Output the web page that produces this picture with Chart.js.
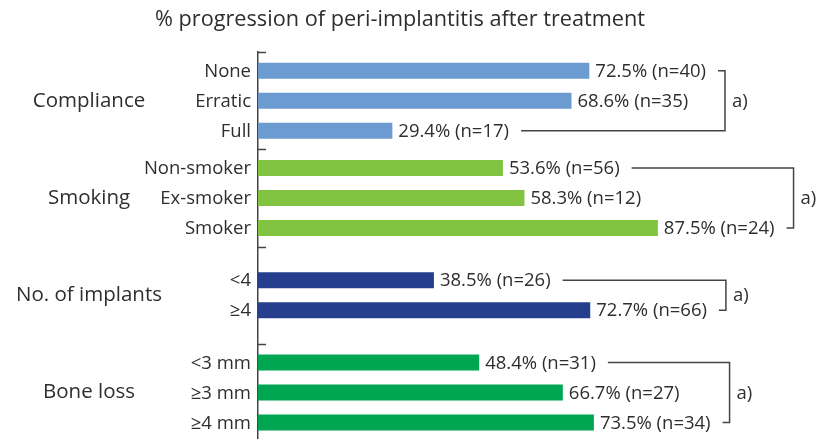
<!DOCTYPE html>
<html>
<head>
<meta charset="utf-8">
<script src="https://cdn.jsdelivr.net/npm/chart.js@4/dist/chart.umd.min.js"></script>
<style>
  html, body { margin: 0; padding: 0; background: #fff; overflow: hidden; }
  #wrap { position: relative; width: 821px; height: 450px; }
</style>
</head>
<body>
<div id="wrap"><canvas id="chart"></canvas></div>
<script>
const TITLE       = '% progression of peri-implantitis after treatment';
const groupLabels = ['Compliance', 'Smoking', 'No. of implants', 'Bone loss'];
const groupColors = ['#6b9bd1', '#82c341', '#253f8e', '#00a651'];
const rowLabels   = ['None', 'Erratic', 'Full', 'Non-smoker', 'Ex-smoker', 'Smoker',
                     '<4', '≥4', '<3 mm', '≥3 mm', '≥4 mm'];
const rowGroup    = [0, 0, 0, 1, 1, 1, 2, 2, 3, 3, 3];
const percents    = [72.5, 68.6, 29.4, 53.6, 58.3, 87.5, 38.5, 72.7, 48.4, 66.7, 73.5];
const counts      = [40, 35, 17, 56, 12, 24, 26, 66, 31, 27, 34];
const sigMark     = 'a)';

const FONT = '"Open Sans", "DejaVu Sans", sans-serif';
const INK  = '#2e2e2e';
const LABEL_SIZE = 18.5;
const SLOTS = 5;

// spread each group's rows over 5 slots so 3-row groups use 0,2,4 and 2-row groups 1,3
const datasets = [];
for (let s = 0; s < SLOTS; s++) {
    datasets.push({ data: groupLabels.map(() => null), rows: groupLabels.map(() => null),
                    backgroundColor: groupColors });
}
groupLabels.forEach((g, gi) => {
    const rows = rowGroup.map((v, i) => v === gi ? i : -1).filter(i => i >= 0);
    const first = (SLOTS - (2 * rows.length - 1)) / 2;
    rows.forEach((r, j) => {
        datasets[first + 2 * j].data[gi] = percents[r];
        datasets[first + 2 * j].rows[gi] = r;
    });
});

const annotate = {
    id: 'annotate',
    afterDatasetsDraw(chart) {
        const ctx = chart.ctx;
        const area = chart.chartArea;
        const ys = chart.scales.y;
        const found = [];   // per row: {y, end}

        ctx.save();
        ctx.fillStyle = INK;
        ctx.textBaseline = 'middle';
        ctx.font = LABEL_SIZE + 'px ' + FONT;
        chart.data.datasets.forEach((ds, di) => {
            const meta = chart.getDatasetMeta(di);
            meta.data.forEach((el, gi) => {
                if (ds.data[gi] == null) return;
                const r = ds.rows[gi];
                ctx.textAlign = 'left';
                const txt = percents[r].toFixed(1) + '% (n=' + counts[r] + ')';
                const x0 = el.x + 6;
                ctx.fillText(txt, x0, el.y + 1);
                found[r] = { y: el.y, end: x0 + ctx.measureText(txt).width };
                ctx.textAlign = 'right';
                ctx.fillText(rowLabels[r], area.left - 7, el.y + 1);
            });
        });

        // short tick marks at group boundaries
        ctx.strokeStyle = '#444';
        ctx.lineWidth = 1.5;
        for (let i = 0; i <= groupLabels.length; i++) {
            const y = Math.round(ys.getPixelForValue(i - 0.5)) + 0.5;
            ctx.beginPath();
            ctx.moveTo(area.left, y);
            ctx.lineTo(area.left + 8, y);
            ctx.stroke();
        }

        // significance brackets
        ctx.textAlign = 'left';
        groupLabels.forEach((g, gi) => {
            const rows = rowGroup.map((v, i) => v === gi ? i : -1).filter(i => i >= 0);
            const top = found[rows[0]], bot = found[rows[rows.length - 1]];
            const bx = Math.max(...rows.map(r => found[r].end)) + 19;
            ctx.beginPath();
            ctx.moveTo(top.end + 12, top.y);
            ctx.lineTo(bx, top.y);
            ctx.lineTo(bx, bot.y);
            ctx.lineTo(bot.end + 12, bot.y);
            ctx.stroke();
            ctx.fillText(sigMark, bx + 7, (top.y + bot.y) / 2 + 1);
        });
        ctx.restore();
    }
};

new Chart(document.getElementById('chart'), {
    type: 'bar',
    data: { labels: groupLabels, datasets },
    options: {
        indexAxis: 'y',
        responsive: true,
        maintainAspectRatio: false,
        animation: false,
        categoryPercentage: 75 / 97.25,
        barPercentage: 16 / 15,
        layout: { autoPadding: false, padding: { left: 0, right: 21, top: 0, bottom: 9 } },
        plugins: {
            legend: { display: false },
            tooltip: { enabled: false },
            title: {
                display: true,
                text: TITLE,
                color: INK,
                font: { family: FONT, size: 21.7, weight: 'normal', lineHeight: 1.2 },
                padding: { top: 7, bottom: 19 }
            }
        },
        scales: {
            x: { display: false, min: 0, max: 118.6 },
            y: {
                afterFit: s => { s.width = 258; s.paddingTop = 0; s.paddingBottom = 0; },
                grid: { display: false, drawTicks: false },
                border: { display: true, color: '#444', width: 1.5 },
                ticks: {
                    crossAlign: 'center',
                    padding: 96,
                    color: INK,
                    font: { family: FONT, size: 20.5 }
                }
            }
        }
    },
    plugins: [annotate]
});
</script>
</body>
</html>
